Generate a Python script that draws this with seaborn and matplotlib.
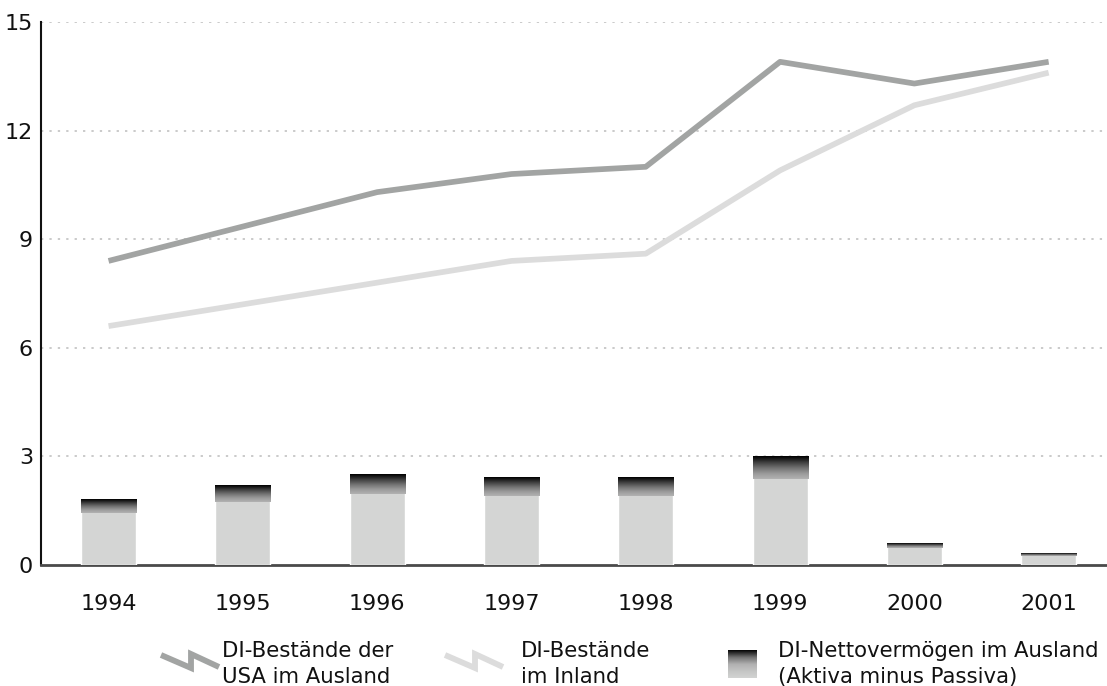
import numpy as np
import pandas as pd
import matplotlib
matplotlib.use("Agg")
import matplotlib.pyplot as plt
import seaborn as sns
from matplotlib.colors import LinearSegmentedColormap
from matplotlib.lines import Line2D

# ---------------------------------------------------------------
# Daten
# ---------------------------------------------------------------
jahre = ["1994", "1995", "1996", "1997", "1998", "1999", "2000", "2001"]
bestand_ausland = [8.4, 9.35, 10.3, 10.8, 11.0, 13.9, 13.3, 13.9]
bestand_inland = [6.6, 7.2, 7.8, 8.4, 8.6, 10.9, 12.7, 13.6]
netto_vermoegen = [1.82, 2.2, 2.5, 2.4, 2.4, 3.02, 0.61, 0.3]
y_ticks = [0, 3, 6, 9, 12, 15]

df = pd.DataFrame({
    "jahr": jahre,
    "pos": np.arange(len(jahre)),
    "ausland": bestand_ausland,
    "inland": bestand_inland,
    "netto": netto_vermoegen,
})

# ---------------------------------------------------------------
# Stil
# ---------------------------------------------------------------
sns.set_theme(style="white")
plt.rcParams["font.family"] = ["DejaVu Sans"]
plt.rcParams["text.color"] = "#111111"

W, H = 1107, 686
fig = plt.figure(figsize=(W / 100, H / 100), dpi=100)
ax = fig.add_axes([41.4 / W, 121 / H, (W - 41.4) / W, 543 / H])

col_dark = "#a2a4a3"
col_light = "#dcdcdc"
col_bar = "#d4d5d4"
grad = LinearSegmentedColormap.from_list(
    "grad", ["#000000", "#3a3a3a", "#6e6e6e", "#989898", "#b2b2b2"])

# Balken mit Verlauf im oberen Teil
sns.barplot(data=df, x="jahr", y="netto", color=col_bar, width=0.41,
            saturation=1, ax=ax, zorder=3)
for p in ax.patches:
    h = p.get_height()
    if h <= 0:
        continue
    top = p.get_y() + h
    ax.imshow(np.linspace(0, 1, 64).reshape(-1, 1), cmap=grad, aspect="auto",
              origin="upper",
              extent=(p.get_x(), p.get_x() + p.get_width(), top - 0.21 * h, top),
              zorder=4, interpolation="bilinear")

# Linien
sns.lineplot(data=df, x="pos", y="inland", color=col_light, linewidth=4.1,
             ax=ax, zorder=5, solid_capstyle="butt")
sns.lineplot(data=df, x="pos", y="ausland", color=col_dark, linewidth=4.1,
             ax=ax, zorder=6, solid_capstyle="butt")

# Achsen
ax.set_xlim(-0.5, -0.5 + (W - 41.4) / 134.3)
ax.set_ylim(0, 15)
ax.set_yticks(y_ticks)
ax.set_yticklabels([str(t) for t in y_ticks])
ax.set_xticks(np.arange(len(jahre)))
ax.set_xticklabels(jahre)
ax.set_xticks(np.arange(len(jahre) - 1) + 0.5, minor=True)
ax.set_xlabel("")
ax.set_ylabel("")
ax.tick_params(axis="y", length=0, pad=6, labelsize=16, labelcolor="#111111")
ax.tick_params(axis="x", which="major", length=0, pad=21, labelsize=16, labelcolor="#111111")
ax.tick_params(axis="x", which="minor", length=6, width=1.2, color="#333333", direction="out")

for t in y_ticks[1:]:
    ax.axhline(t, color="#bcbcbc", linestyle=(0, (1.5, 4)), linewidth=1.1, zorder=1)

for s in ["top", "right"]:
    ax.spines[s].set_visible(False)
ax.spines["left"].set_color("#111111")
ax.spines["left"].set_linewidth(1.5)
ax.spines["bottom"].set_color("#4a4a4a")
ax.spines["bottom"].set_linewidth(2)
ax.grid(False)

# ---------------------------------------------------------------
# Legende (manuell)
# ---------------------------------------------------------------
def fx(x):
    return x / W

def fy(y):
    return 1 - y / H

def blitz(x0, color):
    xs = [x0, x0 + 30, x0 + 30, x0 + 58]
    ys = [655, 668, 654, 667]
    fig.add_artist(Line2D([fx(v) for v in xs], [fy(v) for v in ys],
                          transform=fig.transFigure, color=color, linewidth=4.2,
                          solid_joinstyle="miter", solid_capstyle="butt"))

blitz(161, col_dark)
blitz(445, col_light)

fs = 15.3
fig.text(fx(222), fy(651), "DI-Bestände der", fontsize=fs, va="center", ha="left")
fig.text(fx(222), fy(677), "USA im Ausland", fontsize=fs, va="center", ha="left")
fig.text(fx(521), fy(651), "DI-Bestände", fontsize=fs, va="center", ha="left")
fig.text(fx(521), fy(677), "im Inland", fontsize=fs, va="center", ha="left")
fig.text(fx(778), fy(651), "DI-Nettovermögen im Ausland", fontsize=fs, va="center", ha="left")
fig.text(fx(778), fy(677), "(Aktiva minus Passiva)", fontsize=fs, va="center", ha="left")

lax = fig.add_axes([fx(728), fy(678), (757 - 728) / W, 28 / H])
lax.imshow(np.linspace(0, 1, 64).reshape(-1, 1),
           cmap=LinearSegmentedColormap.from_list(
               "lg", ["#050505", "#707070", "#b0b0b0", "#c4c5c4", "#d2d3d2"]),
           aspect="auto", extent=(0, 1, 0, 1), interpolation="bilinear")
lax.set_axis_off()

fig.savefig("out.png", dpi=100)
